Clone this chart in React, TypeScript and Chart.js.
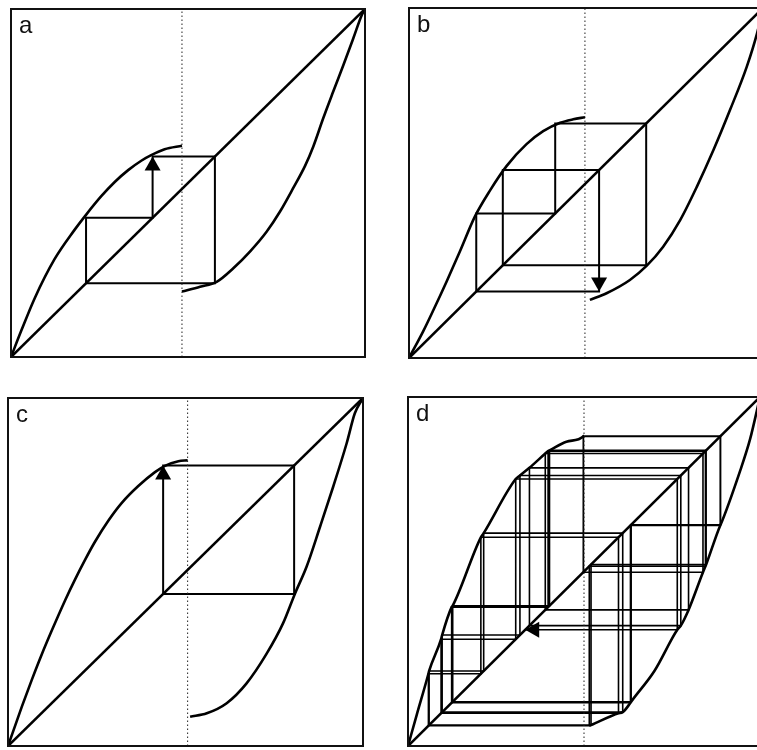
import React, { useEffect, useRef } from "react";
import { Chart, registerables } from "chart.js";

Chart.register(...registerables);

// ---------- Panel a ----------
const A_UPPER_X = [0, 0.03, 0.067, 0.123, 0.18, 0.213, 0.255, 0.293, 0.331, 0.368, 0.396, 0.434, 0.483];
const A_UPPER_Y = [0, 0.078, 0.169, 0.281, 0.366, 0.41, 0.462, 0.503, 0.537, 0.564, 0.58, 0.597, 0.607];
const A_LOWER_X = [0.483, 0.534, 0.581, 0.628, 0.675, 0.722, 0.76, 0.797, 0.831, 0.854, 0.882, 0.91, 0.939, 0.967, 0.991, 1];
const A_LOWER_Y = [0.188, 0.202, 0.216, 0.255, 0.303, 0.36, 0.418, 0.485, 0.55, 0.605, 0.686, 0.762, 0.839, 0.916, 0.983, 1];
const A_BREAK = 0.483;
const A_ORBIT = [0.576, 0.212, 0.4, 0.576];
const A_ARROW_INDEX = 5;

// ---------- Panel b ----------
const B_UPPER_X = [0, 0.04, 0.069, 0.106, 0.144, 0.186, 0.229, 0.276, 0.332, 0.379, 0.427, 0.464, 0.497];
const B_UPPER_Y = [0, 0.076, 0.137, 0.218, 0.305, 0.404, 0.479, 0.549, 0.611, 0.648, 0.672, 0.682, 0.688];
const B_LOWER_X = [0.511, 0.558, 0.624, 0.671, 0.718, 0.766, 0.813, 0.86, 0.907, 0.954, 0.983, 1];
const B_LOWER_Y = [0.166, 0.185, 0.223, 0.263, 0.318, 0.394, 0.489, 0.594, 0.709, 0.832, 0.927, 1];
const B_BREAK = 0.497;
const B_ORBIT = [0.19, 0.413, 0.67, 0.265, 0.537, 0.19];
const B_ARROW_INDEX = 9;

// ---------- Panel c ----------
const C_UPPER_X = [0, 0.039, 0.067, 0.095, 0.123, 0.161, 0.189, 0.217, 0.245, 0.283, 0.32, 0.367, 0.414, 0.442, 0.48, 0.506];
const C_UPPER_Y = [0, 0.113, 0.19, 0.263, 0.331, 0.419, 0.479, 0.535, 0.587, 0.648, 0.698, 0.747, 0.787, 0.805, 0.818, 0.821];
const C_LOWER_X = [0.513, 0.56, 0.616, 0.672, 0.729, 0.775, 0.808, 0.841, 0.879, 0.916, 0.954, 0.977, 1];
const C_LOWER_Y = [0.084, 0.094, 0.123, 0.18, 0.266, 0.353, 0.437, 0.515, 0.63, 0.745, 0.87, 0.956, 1];
const C_BREAK = 0.506;
const C_ORBIT = [0.437, 0.806, 0.437];
const C_ARROW_INDEX = 1;

// ---------- Panel d ----------
const D_UPPER_X = [0, 0.025, 0.058, 0.06, 0.094, 0.097, 0.124, 0.127, 0.207, 0.215, 0.306, 0.318, 0.345, 0.39, 0.398, 0.402, 0.45, 0.498, 0.4985, 0.5];
const D_UPPER_Y = [0, 0.09, 0.207, 0.215, 0.306, 0.318, 0.398, 0.402, 0.598, 0.61, 0.765, 0.775, 0.797, 0.838, 0.845, 0.847, 0.872, 0.887, 0.888, 0.888];
const D_LOWER_X = [0.515, 0.52, 0.598, 0.61, 0.632, 0.634, 0.7, 0.765, 0.775, 0.797, 0.838, 0.845, 0.847, 0.887, 0.888, 0.944, 0.972, 1];
const D_LOWER_Y = [0.058, 0.06, 0.094, 0.097, 0.124, 0.127, 0.215, 0.333, 0.345, 0.39, 0.498, 0.515, 0.52, 0.632, 0.634, 0.79, 0.88, 1];
const D_BREAK = 0.5;
const D_ORBIT = [0.4985, 0.888, 0.634, 0.127, 0.402, 0.847, 0.52, 0.06, 0.215, 0.61, 0.097, 0.318, 0.775, 0.345, 0.797, 0.39, 0.838, 0.498, 0.887, 0.632, 0.124, 0.398, 0.845, 0.515, 0.058, 0.207, 0.598, 0.094, 0.306, 0.765, 0.333];
const D_ARROW_INDEX = 2 * (D_ORBIT.length - 1);

const PANEL_LABELS = ["a", "b", "c", "d"];

type PanelSpec = {
  label: string;
  upperX: number[];
  upperY: number[];
  lowerX: number[];
  lowerY: number[];
  brk: number;
  orbit: number[];
  arrowIndex: number;
  webWidth: number;
  box: { left: number; top: number; right: number; bottom: number };
};

const PANELS: PanelSpec[] = [
  { label: PANEL_LABELS[0], upperX: A_UPPER_X, upperY: A_UPPER_Y, lowerX: A_LOWER_X, lowerY: A_LOWER_Y, brk: A_BREAK, orbit: A_ORBIT, arrowIndex: A_ARROW_INDEX, webWidth: 2, box: { left: 11, top: 9, right: 365, bottom: 357 } },
  { label: PANEL_LABELS[1], upperX: B_UPPER_X, upperY: B_UPPER_Y, lowerX: B_LOWER_X, lowerY: B_LOWER_Y, brk: B_BREAK, orbit: B_ORBIT, arrowIndex: B_ARROW_INDEX, webWidth: 2, box: { left: 409, top: 8, right: 763, bottom: 358 } },
  { label: PANEL_LABELS[2], upperX: C_UPPER_X, upperY: C_UPPER_Y, lowerX: C_LOWER_X, lowerY: C_LOWER_Y, brk: C_BREAK, orbit: C_ORBIT, arrowIndex: C_ARROW_INDEX, webWidth: 2, box: { left: 8, top: 398, right: 363, bottom: 746 } },
  { label: PANEL_LABELS[3], upperX: D_UPPER_X, upperY: D_UPPER_Y, lowerX: D_LOWER_X, lowerY: D_LOWER_Y, brk: D_BREAK, orbit: D_ORBIT, arrowIndex: D_ARROW_INDEX, webWidth: 1.6, box: { left: 408, top: 397, right: 760, bottom: 746 } },
];

const PAD = 4;

function zipPoints(xs: number[], ys: number[]) {
  return xs.map((x, i) => ({ x, y: ys[i] }));
}

function cobwebPath(orbit: number[]) {
  const pts = [{ x: orbit[0], y: orbit[0] }];
  for (let i = 1; i < orbit.length; i++) {
    pts.push({ x: orbit[i - 1], y: orbit[i] });
    pts.push({ x: orbit[i], y: orbit[i] });
  }
  return pts;
}

const framePlugin = {
  id: "frame",
  afterDatasetsDraw(chart: any) {
    const { ctx, chartArea: a } = chart;
    ctx.save();
    ctx.strokeStyle = "#111";
    ctx.lineWidth = 2;
    ctx.strokeRect(a.left, a.top, a.right - a.left, a.bottom - a.top);
    ctx.restore();
  },
};

const labelPlugin = {
  id: "panelLabel",
  afterDraw(chart: any, _args: any, opts: any) {
    const { ctx, chartArea: a } = chart;
    ctx.save();
    ctx.fillStyle = "#111";
    ctx.font = "24px 'Liberation Sans', Arial, sans-serif";
    ctx.textBaseline = "alphabetic";
    ctx.textAlign = "left";
    ctx.fillText(opts.text, a.left + 8, a.top + 24);
    ctx.restore();
  },
};

const arrowPlugin = {
  id: "arrowHead",
  afterDatasetsDraw(chart: any) {
    const { ctx } = chart;
    chart.data.datasets.forEach((ds: any, i: number) => {
      const idx = ds.arrowIndex;
      if (idx == null) return;
      const meta = chart.getDatasetMeta(i);
      const p = meta.data[idx];
      const q = meta.data[idx - 1];
      if (!p || !q) return;
      const dx = p.x - q.x;
      const dy = p.y - q.y;
      const len = Math.hypot(dx, dy) || 1;
      const ux = dx / len;
      const uy = dy / len;
      const L = 14;
      const W = 8;
      const bx = p.x - ux * L;
      const by = p.y - uy * L;
      ctx.save();
      ctx.fillStyle = "#000";
      ctx.beginPath();
      ctx.moveTo(p.x, p.y);
      ctx.lineTo(bx - uy * W, by + ux * W);
      ctx.lineTo(bx + uy * W, by - ux * W);
      ctx.closePath();
      ctx.fill();
      ctx.restore();
    });
  },
};

function PanelChart({ spec }: { spec: PanelSpec }) {
  const ref = useRef<HTMLCanvasElement | null>(null);
  const w = spec.box.right - spec.box.left + 2 * PAD;
  const h = spec.box.bottom - spec.box.top + 2 * PAD;

  useEffect(() => {
    if (!ref.current) return;
    const curveStyle = {
      showLine: true,
      borderColor: "#000",
      borderWidth: 2.6,
      pointRadius: 0,
      fill: false,
      cubicInterpolationMode: "monotone" as const,
    };
    const chart = new Chart(ref.current, {
      type: "scatter",
      data: {
        datasets: [
          { ...curveStyle, data: zipPoints(spec.upperX, spec.upperY) },
          { ...curveStyle, data: zipPoints(spec.lowerX, spec.lowerY) },
          { ...curveStyle, data: [{ x: 0, y: 0 }, { x: 1, y: 1 }], cubicInterpolationMode: "default", tension: 0 },
          {
            showLine: true,
            borderColor: "#222",
            borderWidth: 1,
            borderDash: [1.5, 2.5],
            pointRadius: 0,
            data: [{ x: spec.brk, y: 0 }, { x: spec.brk, y: 1 }],
          },
          {
            showLine: true,
            borderColor: "#000",
            borderWidth: spec.webWidth,
            pointRadius: 0,
            tension: 0,
            borderJoinStyle: "miter",
            data: cobwebPath(spec.orbit),
            arrowIndex: spec.arrowIndex,
          } as any,
        ],
      },
      options: {
        animation: false,
        responsive: false,
        maintainAspectRatio: false,
        events: [],
        layout: { padding: PAD },
        scales: {
          x: { type: "linear", min: 0, max: 1, display: false },
          y: { type: "linear", min: 0, max: 1, display: false },
        },
        plugins: {
          legend: { display: false },
          tooltip: { enabled: false },
          panelLabel: { text: spec.label },
        } as any,
      },
      plugins: [framePlugin, arrowPlugin, labelPlugin],
    });
    return () => chart.destroy();
  }, [spec]);

  return (
    <canvas
      ref={ref}
      width={w}
      height={h}
      style={{
        position: "absolute",
        left: spec.box.left - PAD,
        top: spec.box.top - PAD,
        width: w,
        height: h,
      }}
    />
  );
}

export default function App() {
  return (
    <div
      style={{
        position: "absolute",
        left: 0,
        top: 0,
        width: 757,
        height: 750,
        overflow: "hidden",
        background: "#fff",
      }}
    >
      {PANELS.map((p) => (
        <PanelChart key={p.label} spec={p} />
      ))}
    </div>
  );
}
